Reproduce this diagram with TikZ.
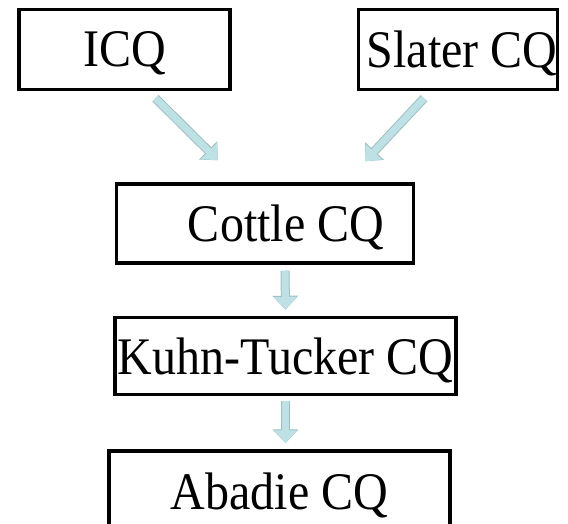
\documentclass[tikz,border=0pt]{standalone}
\usepackage{fontspec}
\setmainfont{Liberation Serif}
\usepackage{xcolor}
\definecolor{cLine}{HTML}{000000}
\definecolor{cFlow}{HTML}{BDE1E4}
\definecolor{cFlowEdge}{HTML}{9DBFC2}
\usepackage{tikz}
\usetikzlibrary{positioning,arrows.meta}
\newcommand{\cqlabel}[1]{\scalebox{1}[1.1]{#1}}
\tikzset{
  node-box/.style={draw=cLine,line width=3.5pt,inner sep=0pt,text depth=0pt,
    minimum height=80pt,font=\fontsize{48}{50}\selectfont},
  arrow-flow/.style={-{Triangle[length=13pt,width=22pt]},line width=7pt,draw=cFlow,
    preaction={draw=cFlowEdge,line width=9pt,-{Triangle[length=14pt,width=25pt]}}},
}

\begin{document}
\begin{tikzpicture}[x=1pt,y=-1pt]
  \useasboundingbox (0,0) rectangle (568,524);
  \node[node-box,minimum width=211pt,minimum height=80pt] (icq) at (124.5,49.5) {\cqlabel{ICQ}};
  \node[node-box,minimum width=198pt,minimum height=80pt] (slater) at (458,49.5) {\cqlabel{\hspace*{8pt}Slater CQ}};
  \node[node-box,minimum width=297pt,minimum height=79pt] (cottle) at (265,223.5) {\cqlabel{\hspace*{42pt}Cottle CQ}};
  \node[node-box,minimum width=341pt,minimum height=77pt] (kuhn) at (285.5,356) {\cqlabel{Kuhn-Tucker CQ}};
  \node[node-box,minimum width=341pt] (abadie) at (279.5,491) {\cqlabel{Abadie CQ}};
  \draw[arrow-flow] ([xshift=31pt,yshift=-7pt]icq.south) -- ([xshift=-47pt,yshift=22pt]cottle.north);
  \draw[arrow-flow] ([xshift=-34pt,yshift=-7pt]slater.south) -- ([xshift=100pt,yshift=21pt]cottle.north);
  \draw[arrow-flow,shorten <=6pt,shorten >=6pt] ([xshift=20pt]cottle.south) -- (kuhn.north);
  \draw[arrow-flow,shorten <=5pt,shorten >=6pt] (kuhn.south) -- (kuhn.south |- abadie.north);
\end{tikzpicture}
\end{document}
